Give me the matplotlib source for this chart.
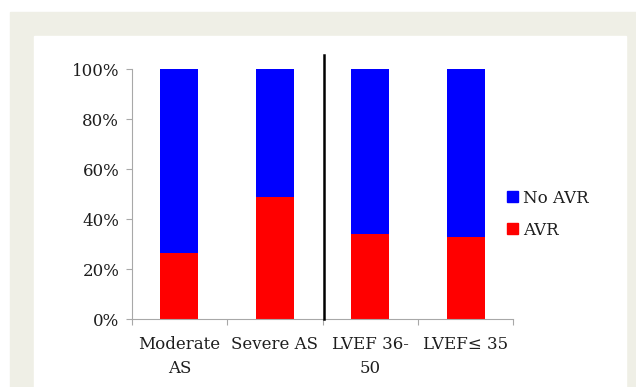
import matplotlib
matplotlib.use("Agg")
import matplotlib.pyplot as plt
from matplotlib.patches import Rectangle, Patch
import numpy as np

categories = ["Moderate\nAS", "Severe AS", "LVEF 36-\n50", "LVEF\u2264 35"]
avr = [26.4, 48.8, 34.1, 33.0]
no_avr = [73.6, 51.2, 65.9, 67.0]
y_ticks = [0, 20, 40, 60, 80, 100]

plt.rcParams["font.family"] = "DejaVu Serif"
plt.rcParams["font.size"] = 12

W, H = 636, 387
fig = plt.figure(figsize=(W / 100, H / 100), dpi=100)

# beige frame and white inner panel, kept behind the axes
fig.patches.append(Rectangle((10 / W, 0), 1 - 10 / W, 1 - 12 / H,
                             transform=fig.transFigure, color="#efefe6", zorder=-2))
fig.patches.append(Rectangle((34 / W, 0), (626 - 34) / W, 1 - 36 / H,
                             transform=fig.transFigure, color="white", zorder=-1))

ax = fig.add_axes([131.7 / W, 1 - 319.3 / H, 381.6 / W, 250.3 / H])
ax.patch.set_alpha(0)

x = np.arange(len(categories))
ax.bar(x, avr, width=0.4, color="#ff0000", label="AVR", zorder=2)
ax.bar(x, no_avr, width=0.4, bottom=avr, color="#0000ff", label="No AVR", zorder=2)

# divider between the two groups
ax.plot([1.52, 1.52], [0, 105.6], color="black", lw=1.8, clip_on=False, zorder=3)

ax.set_xlim(-0.5, 3.5)
ax.set_ylim(0, 100)
ax.set_yticks(y_ticks)
ax.set_yticklabels([f"{v}%" for v in y_ticks])

ax.set_xticks(np.arange(-0.5, 4, 1.0))
ax.set_xticklabels([])
ax.set_xticks(x, minor=True)
ax.set_xticklabels(categories, minor=True, linespacing=1.55)
ax.tick_params(axis="x", which="minor", length=0, pad=12)
ax.tick_params(axis="both", which="major", length=4, color="#a8a8a8", width=0.8)
ax.tick_params(axis="y", pad=5, colors="#a8a8a8", labelcolor="#1e1e1e")
ax.tick_params(axis="x", which="minor", labelcolor="#1e1e1e")

for s in ["top", "right"]:
    ax.spines[s].set_visible(False)
for s in ["left", "bottom"]:
    ax.spines[s].set_color("#a8a8a8")
    ax.spines[s].set_linewidth(0.8)

handles = [Patch(color="#0000ff", label="No AVR"), Patch(color="#ff0000", label="AVR")]
fig.legend(handles=handles, loc="center left", bbox_to_anchor=(506.7 / W, 1 - 214.2 / H),
           frameon=False, borderpad=0, borderaxespad=0, handlelength=0.65,
           handleheight=0.65, handletextpad=0.35, labelspacing=0.9,
           labelcolor="#1e1e1e")

fig.savefig("out.png", dpi=100)
